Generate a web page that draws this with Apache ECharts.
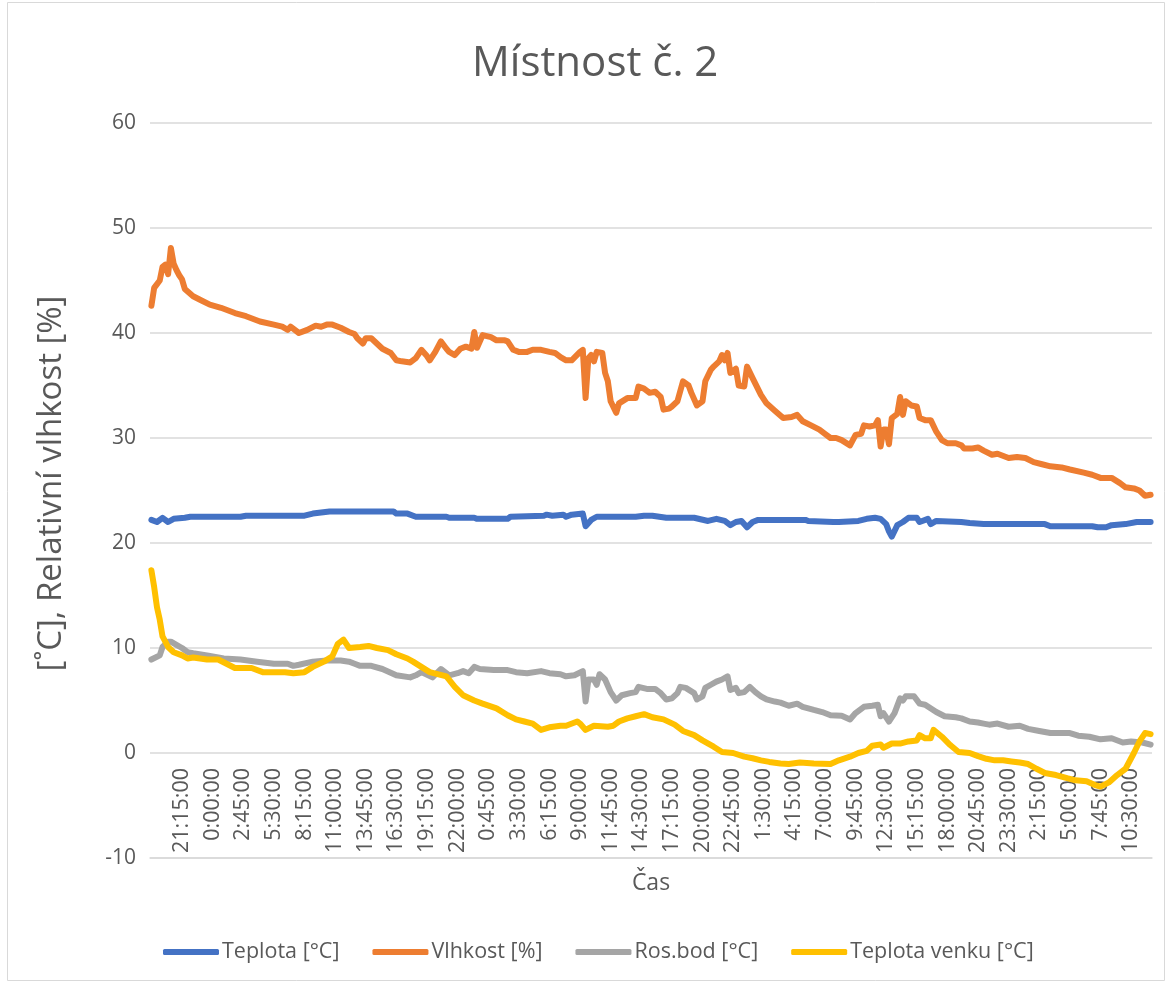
<!DOCTYPE html>
<html>
<head>
<meta charset="utf-8">
<title>Místnost č. 2</title>
<script src="https://cdn.jsdelivr.net/npm/echarts@6/dist/echarts.min.js"></script>
<style>
  html, body { margin: 0; padding: 0; background: #fff; }
  #chart { width: 1170px; height: 983px; }
</style>
</head>
<body>
<div id="chart"></div>
<script>
// měření po 15 minutách, první vzorek 18:30
var startMinutes = 18 * 60 + 30;
var stepMinutes = 15;
var sampleCount = 360;
var categories = [];
for (var i = 0; i < sampleCount; i++) {
    var m = (startMinutes + i * stepMinutes) % (24 * 60);
    categories.push(Math.floor(m / 60) + ':' + String(m % 60).padStart(2, '0') + ':00');
}

// popisky osy x (každý 11. vzorek od 21:15)
var tickLabels = ['21:15:00', '0:00:00', '2:45:00', '5:30:00', '8:15:00', '11:00:00', '13:45:00', '16:30:00',
    '19:15:00', '22:00:00', '0:45:00', '3:30:00', '6:15:00', '9:00:00', '11:45:00', '14:30:00', '17:15:00',
    '20:00:00', '22:45:00', '1:30:00', '4:15:00', '7:00:00', '9:45:00', '12:30:00', '15:15:00', '18:00:00',
    '20:45:00', '23:30:00', '2:15:00', '5:00:00', '7:45:00', '10:30:00'];
var firstTick = 11;
var tickStep = 11;

var yTicks = [-10, 0, 10, 20, 30, 40, 50, 60];

// [index vzorku, hodnota]
var teplota = [[0,22.2],[2,22.0],[4,22.4],[6,22.0],[8,22.3],[12,22.4],[14,22.5],[32,22.5],[34,22.6],[55,22.6],[58,22.8],
    [64,23.0],[87,23.0],[88,22.8],[92,22.8],[95,22.5],[106,22.5],[107,22.4],[116,22.4],[117,22.3],[128,22.3],[129,22.5],
    [141,22.6],[142,22.7],[144,22.6],[148,22.7],[149,22.5],[151,22.7],[155,22.8],[156,21.6],[158,22.2],[160,22.5],
    [174,22.5],[177,22.6],[180,22.6],[185,22.4],[195,22.4],[200,22.1],[203,22.3],[206,22.1],[208,21.7],[210,22.0],
    [212,22.1],[214,21.5],[216,22.0],[218,22.2],[235,22.2],[236,22.1],[245,22.0],[247,22.0],[254,22.1],[257,22.3],
    [260,22.4],[262,22.3],[264,21.8],[265,21.1],[266,20.6],[268,21.7],[270,22.0],[272,22.4],[275,22.4],[276,22.0],
    [279,22.3],[280,21.8],[282,22.1],[291,22.0],[294,21.9],[299,21.8],[321,21.8],[323,21.6],[338,21.6],[340,21.5],
    [343,21.5],[345,21.7],[350,21.8],[354,22.0],[359,22.0]];

var vlhkost = [[0,42.6],[1,44.3],[3,45.0],[4,46.3],[5,46.5],[6,45.6],[7,48.1],[8,46.6],[9,46.0],[10,45.5],[11,45.1],
    [12,44.2],[15,43.5],[18,43.1],[21,42.7],[25,42.4],[30,41.9],[34,41.6],[39,41.1],[44,40.8],[47,40.6],[49,40.3],
    [50,40.6],[53,40.0],[56,40.3],[59,40.7],[61,40.6],[63,40.8],[65,40.8],[68,40.5],[71,40.1],[73,39.9],[74,39.5],
    [76,39.0],[77,39.5],[79,39.5],[81,39.0],[83,38.5],[86,38.1],[88,37.4],[90,37.3],[93,37.2],[95,37.6],[97,38.4],
    [99,37.8],[100,37.4],[102,38.2],[104,39.2],[106,38.5],[107,38.2],[109,37.9],[111,38.5],[113,38.7],[115,38.5],
    [116,40.1],[117,38.6],[119,39.8],[122,39.6],[124,39.3],[127,39.3],[128,39.2],[130,38.4],[132,38.2],[135,38.2],
    [137,38.4],[140,38.4],[143,38.2],[145,38.1],[147,37.7],[149,37.4],[151,37.4],[154,38.2],[155,38.4],[156,33.8],
    [157,37.6],[158,37.9],[159,37.3],[160,38.2],[162,38.1],[163,36.2],[164,35.4],[165,33.5],[167,32.4],[168,33.3],
    [171,33.8],[174,33.8],[175,34.9],[177,34.7],[179,34.3],[181,34.4],[183,33.9],[184,32.7],[186,32.8],[187,33.0],
    [189,33.5],[191,35.4],[193,35.0],[194,34.3],[196,33.1],[198,33.5],[199,35.4],[201,36.5],[202,36.8],[204,37.3],
    [205,37.9],[206,37.4],[207,38.1],[208,36.2],[210,36.6],[211,35.0],[213,34.9],[214,36.8],[216,35.7],[219,34.1],
    [221,33.3],[224,32.6],[227,31.9],[230,32.0],[232,32.2],[234,31.6],[237,31.2],[240,30.8],[242,30.4],[244,30.0],
    [246,30.0],[248,29.8],[251,29.3],[253,30.3],[255,30.4],[256,31.2],[258,31.1],[260,31.2],[261,31.7],[262,29.2],
    [263,30.8],[264,30.8],[265,29.4],[266,31.9],[268,32.3],[269,33.9],[270,32.2],[271,33.5],[273,33.1],[275,33.0],
    [276,31.9],[278,31.7],[280,31.7],[282,30.6],[284,29.8],[286,29.5],[289,29.5],[291,29.3],[292,29.0],[295,29.0],
    [297,29.1],[299,28.8],[302,28.4],[304,28.5],[308,28.1],[311,28.2],[314,28.1],[317,27.7],[320,27.5],[323,27.3],
    [327,27.2],[330,27.0],[335,26.7],[338,26.5],[341,26.2],[345,26.2],[348,25.7],[350,25.3],[353,25.2],[355,25.0],
    [357,24.5],[359,24.6]];

var rosBod = [[0,8.9],[3,9.3],[4,10.1],[6,10.6],[7,10.6],[9,10.3],[11,10.0],[13,9.6],[15,9.5],[20,9.3],[26,9.0],
    [32,8.9],[38,8.7],[44,8.5],[49,8.5],[51,8.3],[53,8.4],[58,8.7],[63,8.8],[68,8.8],[71,8.7],[73,8.5],[75,8.3],
    [79,8.3],[83,8.0],[88,7.4],[93,7.2],[95,7.4],[97,7.7],[101,7.2],[104,8.0],[107,7.4],[110,7.6],[112,7.8],[114,7.6],
    [116,8.2],[118,8.0],[123,7.9],[128,7.9],[131,7.7],[135,7.6],[140,7.8],[143,7.6],[147,7.5],[149,7.3],[152,7.4],
    [155,7.8],[156,4.9],[157,7.0],[159,7.0],[160,6.5],[161,7.5],[163,7.0],[165,5.8],[167,5.0],[169,5.5],[172,5.7],
    [174,5.8],[175,6.3],[178,6.1],[181,6.1],[183,5.7],[185,5.1],[187,5.2],[189,5.7],[190,6.3],[192,6.2],[195,5.7],
    [196,5.1],[198,5.4],[199,6.2],[201,6.5],[203,6.8],[205,7.0],[207,7.3],[208,6.0],[210,6.2],[211,5.7],[213,5.8],
    [215,6.3],[217,5.8],[219,5.4],[221,5.1],[224,4.9],[226,4.8],[229,4.5],[232,4.7],[234,4.4],[238,4.1],[241,3.9],
    [244,3.6],[248,3.55],[251,3.2],[253,3.8],[256,4.4],[259,4.5],[261,4.6],[262,3.5],[263,3.8],[265,3.0],[267,3.8],
    [269,5.2],[270,5.0],[271,5.4],[274,5.4],[276,4.7],[278,4.6],[282,3.9],[285,3.5],[289,3.4],[291,3.3],[294,3.0],
    [297,2.9],[299,2.8],[301,2.7],[304,2.8],[308,2.5],[312,2.6],[315,2.3],[319,2.1],[323,1.9],[326,1.9],[330,1.9],
    [333,1.65],[337,1.55],[341,1.3],[345,1.4],[349,1.0],[352,1.1],[356,1.0],[359,0.8]];

var teplotaVenku = [[0,17.4],[1,15.8],[2,13.9],[3,12.7],[4,11.1],[6,10.1],[8,9.6],[11,9.3],[13,9.0],[15,9.1],[20,8.9],
    [24,8.9],[27,8.5],[30,8.1],[36,8.1],[40,7.7],[44,7.7],[48,7.7],[51,7.6],[55,7.7],[58,8.2],[62,8.7],[65,9.2],
    [67,10.4],[69,10.8],[71,10.0],[75,10.1],[78,10.2],[81,10.0],[85,9.8],[88,9.4],[92,9.0],[94,8.7],[97,8.2],
    [100,7.7],[106,7.3],[109,6.3],[112,5.5],[116,5.0],[119,4.7],[124,4.25],[128,3.6],[131,3.2],[134,3.0],[137,2.8],
    [140,2.2],[143,2.45],[147,2.6],[149,2.6],[153,3.0],[154,2.8],[156,2.2],[159,2.6],[164,2.5],[166,2.6],[168,3.0],
    [171,3.3],[174,3.5],[177,3.7],[180,3.4],[184,3.2],[188,2.7],[191,2.1],[195,1.7],[198,1.2],[202,0.6],[205,0.1],
    [209,0.0],[213,-0.35],[216,-0.5],[219,-0.7],[222,-0.85],[226,-1.0],[229,-1.05],[233,-0.9],[238,-1.0],[244,-1.05],
    [247,-0.7],[251,-0.35],[254,0.0],[257,0.2],[259,0.7],[262,0.8],[263,0.5],[266,0.9],[269,0.9],[272,1.1],[275,1.2],
    [276,1.7],[278,1.4],[280,1.4],[281,2.2],[284,1.55],[287,0.76],[290,0.1],[294,0.0],[297,-0.3],[300,-0.55],
    [303,-0.7],[306,-0.7],[309,-0.8],[312,-0.9],[315,-1.05],[318,-1.5],[321,-1.9],[325,-2.1],[329,-2.4],[332,-2.6],
    [336,-2.7],[339,-3.05],[341,-3.2],[344,-2.8],[347,-2.1],[350,-1.5],[351,-1.0],[353,0.0],[355,1.1],[357,1.9],
    [359,1.8]];

var seriesNames = ['Teplota [°C]', 'Vlhkost [%]', 'Ros.bod [°C]', 'Teplota venku [°C]'];
var seriesColors = ['#4472C4', '#ED7D31', '#A5A5A5', '#FFC000'];
var seriesData = [teplota, vlhkost, rosBod, teplotaVenku];

var font = '"Open Sans", sans-serif';
var textColor = '#595959';
var gridColor = '#D9D9D9';

var chart = echarts.init(document.getElementById('chart'), null, { renderer: 'canvas' });

var series = seriesNames.map(function (name, k) {
    return {
        name: name,
        type: 'line',
        data: seriesData[k],
        symbol: 'none',
        color: seriesColors[k],
        lineStyle: { width: 6, color: seriesColors[k], cap: 'round', join: 'round' },
        animation: false
    };
});

chart.setOption({
    backgroundColor: '#fff',
    animation: false,
    title: {
        text: 'Místnost č. 2',
        left: 467,
        top: 38,
        textStyle: { fontFamily: font, fontSize: 42, fontWeight: 'normal', color: textColor }
    },
    legend: {
        data: seriesNames,
        left: 158,
        top: 936,
        icon: 'roundRect',
        itemWidth: 56,
        itemHeight: 6,
        itemGap: 33,
        textStyle: { fontFamily: font, fontSize: 21.5, color: textColor, padding: [0, 0, 0, -2] }
    },
    grid: { left: 150, right: 18, top: 123, bottom: 125, outerBoundsMode: 'none' },
    xAxis: {
        type: 'category',
        data: categories,
        boundaryGap: true,
        name: 'Čas',
        nameLocation: 'middle',
        nameGap: 14,
        nameMoveOverlap: false,
        nameTextStyle: { fontFamily: font, fontSize: 23, color: textColor },
        axisLine: { onZero: false, lineStyle: { color: gridColor, width: 1.5 } },
        axisTick: { show: false },
        axisLabel: {
            rotate: 90,
            // popisky sedí u nulové čáry jako v Excelu
            margin: -90,
            fontFamily: font,
            fontSize: 21.5,
            color: textColor,
            interval: function (index) {
                return index >= firstTick && (index - firstTick) % tickStep === 0;
            },
            formatter: function (value, index) {
                var k = (index - firstTick) / tickStep;
                return tickLabels[k] || '';
            }
        },
        splitLine: { show: false }
    },
    yAxis: {
        type: 'value',
        min: yTicks[0],
        max: yTicks[yTicks.length - 1],
        interval: 10,
        name: '[˚C], Relativní vlhkost [%]',
        nameLocation: 'middle',
        nameGap: 82,
        nameMoveOverlap: false,
        nameTextStyle: { fontFamily: font, fontSize: 33, color: textColor, padding: [0, 0, 0, 14] },
        axisLine: { show: false },
        axisTick: { show: false },
        axisLabel: { margin: 14, fontFamily: font, fontSize: 21, color: textColor },
        splitLine: { lineStyle: { color: gridColor, width: 1.5 } }
    },
    graphic: [{
        type: 'rect',
        shape: { x: 7.5, y: 2.5, width: 1157, height: 978 },
        style: { fill: 'none', stroke: gridColor, lineWidth: 1 },
        silent: true
    }],
    series: series
});
</script>
</body>
</html>
